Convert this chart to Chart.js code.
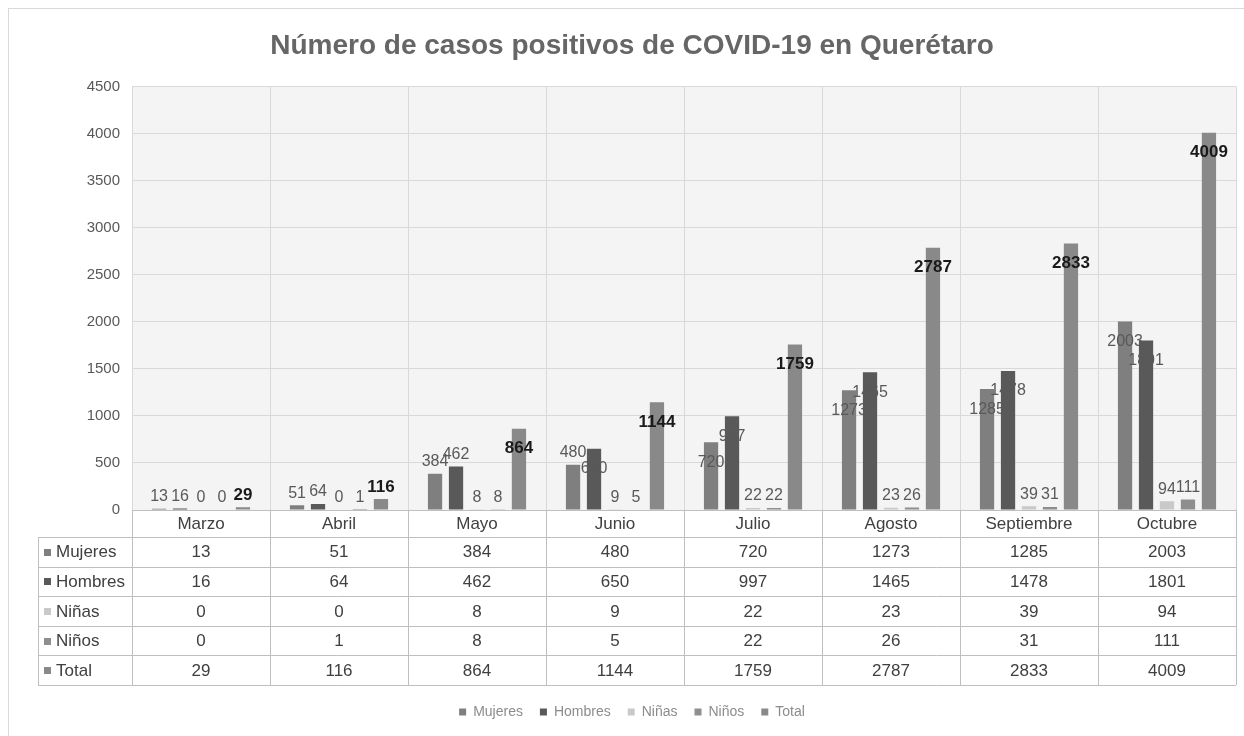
<!DOCTYPE html>
<html>
<head>
<meta charset="utf-8">
<script src="https://cdn.jsdelivr.net/npm/chart.js@4.4.1/dist/chart.umd.min.js"></script>
<style>
  body { margin: 0; background: #fff; }
  #wrap { width: 1244px; height: 736px; }
</style>
</head>
<body>
<div id="wrap"><canvas id="c" width="1244" height="736"></canvas></div>
<script>
const months = ['Marzo', 'Abril', 'Mayo', 'Junio', 'Julio', 'Agosto', 'Septiembre', 'Octubre'];
const mujeres = [13, 51, 384, 480, 720, 1273, 1285, 2003];
const hombres = [16, 64, 462, 650, 997, 1465, 1478, 1801];
const ninas = [0, 0, 8, 9, 22, 23, 39, 94];
const ninos = [0, 1, 8, 5, 22, 26, 31, 111];
const total = [29, 116, 864, 1144, 1759, 2787, 2833, 4009];
const seriesNames = ['Mujeres', 'Hombres', 'Niñas', 'Niños', 'Total'];
const seriesColors = ['#7f7f7f', '#595959', '#c9c9c9', '#8e8e8e', '#898989'];

const FONT = '"Liberation Sans", Arial, sans-serif';

// outer frame + grey plot background
const framePlugin = {
  id: 'frame',
  beforeDraw(chart) {
    const ctx = chart.ctx, a = chart.chartArea;
    ctx.save();
    ctx.fillStyle = '#f4f4f4';
    ctx.fillRect(a.left, a.top, a.right - a.left, a.bottom - a.top);
    ctx.strokeStyle = '#d9d9d9';
    ctx.lineWidth = 1;
    ctx.strokeRect(8.5, 8.5, 1300, 800);
    ctx.restore();
  }
};

// value labels on the bars
const labelPlugin = {
  id: 'barLabels',
  afterDatasetsDraw(chart) {
    const ctx = chart.ctx;
    ctx.save();
    ctx.textAlign = 'center';
    ctx.textBaseline = 'middle';
    chart.data.datasets.forEach((ds, di) => {
      const meta = chart.getDatasetMeta(di);
      const isTotal = di === 4;
      ctx.font = isTotal ? 'bold 17px ' + FONT : '16px ' + FONT;
      ctx.fillStyle = isTotal ? '#1a1a1a' : '#595959';
      meta.data.forEach((bar, i) => {
        const h = bar.base - bar.y;
        const y = h > 45 ? bar.y + 20 : bar.y - 12;
        ctx.fillText(String(ds.data[i]), bar.x, y);
      });
    });
    ctx.restore();
  }
};

// data table under the x axis
const tablePlugin = {
  id: 'dataTable',
  afterDraw(chart) {
    const ctx = chart.ctx, a = chart.chartArea;
    const x = chart.scales.x;
    const colW = (a.right - a.left) / months.length;
    const headH = 27, rowH = 29.6;
    const tLeft = 38;
    const top = a.bottom + headH;
    const bottom = top + rowH * seriesNames.length;
    ctx.save();
    ctx.strokeStyle = '#bfbfbf';
    ctx.lineWidth = 1;
    ctx.beginPath();
    for (let i = 0; i <= months.length; i++) {
      const px = Math.round(a.left + colW * i) + 0.5;
      ctx.moveTo(px, a.bottom);
      ctx.lineTo(px, bottom);
    }
    ctx.moveTo(tLeft + 0.5, top);
    ctx.lineTo(tLeft + 0.5, bottom);
    for (let r = 0; r <= seriesNames.length; r++) {
      const py = Math.round(top + rowH * r) + 0.5;
      ctx.moveTo(tLeft, py);
      ctx.lineTo(a.right, py);
    }
    ctx.stroke();

    ctx.font = '17px ' + FONT;
    ctx.textBaseline = 'middle';
    chart.data.datasets.forEach((ds, di) => {
      const cy = top + rowH * di + rowH / 2 + 1;
      ctx.fillStyle = seriesColors[di];
      ctx.fillRect(44, Math.round(cy - 4), 7, 7);
      ctx.fillStyle = '#404040';
      ctx.textAlign = 'left';
      ctx.fillText(seriesNames[di], 56, cy);
      ctx.textAlign = 'center';
      ds.data.forEach((v, i) => {
        ctx.fillText(String(v), x.getPixelForValue(i), cy);
      });
    });
    ctx.restore();
  }
};

const datasets = [mujeres, hombres, ninas, ninos, total].map((d, i) => ({
  label: seriesNames[i],
  data: d,
  backgroundColor: seriesColors[i],
  borderWidth: 0,
  categoryPercentage: 0.76,
  barPercentage: 0.68
}));

new Chart(document.getElementById('c'), {
  type: 'bar',
  data: { labels: months, datasets: datasets },
  plugins: [framePlugin, labelPlugin, tablePlugin],
  options: {
    responsive: false,
    animation: false,
    layout: { padding: { left: 28, right: 8, top: 0, bottom: 7 } },
    plugins: {
      title: {
        display: true,
        text: 'Número de casos positivos de COVID-19 en Querétaro',
        color: '#666666',
        font: { family: FONT, size: 28, weight: 'bold' },
        padding: { top: 29, bottom: 24 }
      },
      legend: {
        position: 'bottom',
        labels: {
          boxWidth: 7,
          boxHeight: 7,
          padding: 17,
          color: '#8c8c8c',
          font: { family: FONT, size: 14 }
        }
      },
      tooltip: { enabled: false }
    },
    scales: {
      x: {
        offset: true,
        grid: { offset: true, color: '#d9d9d9', drawTicks: false },
        border: { color: '#bfbfbf' },
        ticks: { color: '#404040', font: { family: FONT, size: 17 }, padding: 4, maxRotation: 0 },
        afterFit(scale) { scale.height = 178; }
      },
      y: {
        min: 0,
        max: 4500,
        ticks: {
          stepSize: 500,
          color: '#595959',
          font: { family: FONT, size: 15 },
          padding: 12,
          callback: (v) => String(v)
        },
        grid: { color: '#d9d9d9', drawTicks: false },
        border: { display: false },
        afterFit(scale) { scale.width = 104; }
      }
    }
  }
});
</script>
</body>
</html>
